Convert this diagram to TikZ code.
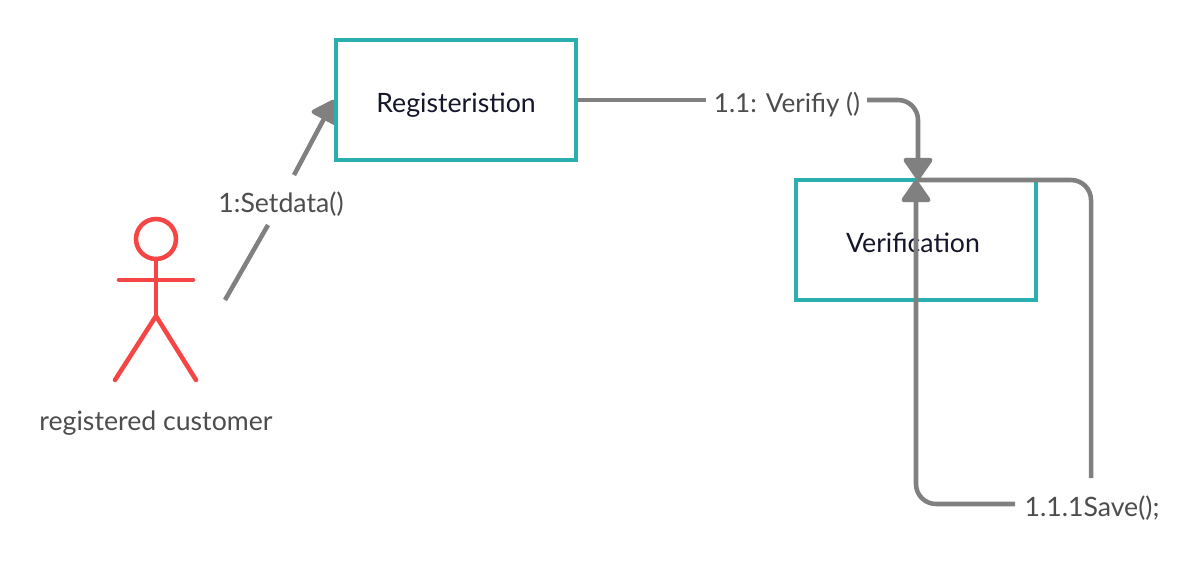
\documentclass[tikz,border=0pt]{standalone}
\usepackage{fontspec}
\setmainfont{Lato}
\usetikzlibrary{arrows.meta,backgrounds}
\definecolor{teal1}{HTML}{2BAEAE}
\definecolor{red1}{HTML}{F54545}
\definecolor{gray1}{HTML}{808080}
\definecolor{txt}{HTML}{4D4D4D}
\definecolor{dark}{HTML}{15152B}
\tikzset{x=0.75pt,y=-0.75pt,
 boxn/.style={draw=teal1,line width=3pt,minimum width=180pt,minimum height=90pt,inner sep=0pt,text=dark,font=\fontsize{20}{24}\selectfont},
 lab/.style={text=txt,font=\fontsize{20}{24}\selectfont,inner sep=0pt},
 conn/.style={draw=gray1,line width=3.4pt,line join=round},
 arr/.style={conn,-{Triangle[length=18pt,width=24pt,round]}},
 actor/.style={draw=red1,line width=3.4pt,line cap=round,line join=round}}
\begin{document}
\begin{tikzpicture}
\useasboundingbox (0,0) rectangle (1198,563);
\begin{scope}[on background layer]
\fill[white] (0,0) rectangle (1198,563);
\end{scope}
\node[boxn] (reg) at (456,100) {\raisebox{-9.7pt}[0pt][0pt]{Registeristion}};
\node[boxn] (ver) at (916,240) {\kern-4.5pt\raisebox{-9pt}[0pt][0pt]{Verification}};
\node[lab] (l1) at (281,204) {1:Setdata()};
\node[lab,font=\fontsize{19.6}{24}\selectfont] (l2) at (787,105) {1.1: Verifiy ()};
\node[lab] (l3) at (1092,508) {1.1.1Save();};
\node[lab] (cust) at (156,423) {registered customer};
\coordinate (a0) at (225,300);
\coordinate (t1) at (917,180);
\draw[conn] (a0) -- (268,225);
\begin{scope}[on background layer]
\draw[arr] (294,175) -- (reg.west);
\end{scope}
\draw[conn] (reg.east) -- (706,100);
\draw[arr] (867,100) -- (898,100) to[out=0,in=90] (918,120) -- (918,180);
\draw[conn] (1091,478) -- (1091,340) -- (1091,200) to[out=90,in=0] (1071,180) -- (t1);
\draw[arr] (1015,504) -- (936,504) to[out=180,in=-90] (916,484) -- (916,180);
\draw[actor] (156,239) circle (20);
\draw[actor] (156,259) -- (156,316);
\draw[actor] (119,280) -- (193,280);
\draw[actor] (115,380) -- (156,316) -- (196,380);
\end{tikzpicture}
\end{document}
